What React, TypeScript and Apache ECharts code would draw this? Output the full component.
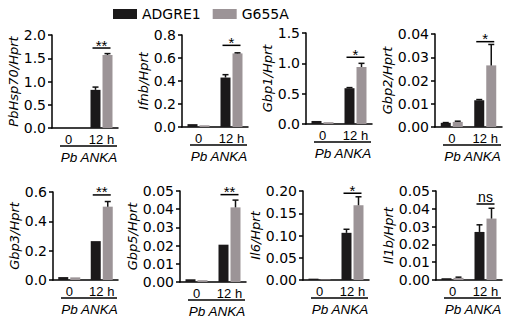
import React, { useEffect, useRef } from "react";
import * as echarts from "echarts";

const categories = ["0", "12 h"];
const panelTitles = ["PbHsp70/Hprt", "Ifnb/Hprt", "Gbp1/Hprt", "Gbp2/Hprt", "Gbp3/Hprt", "Gbp5/Hprt", "Il6/Hprt", "Il1b/Hprt"];
const yMaxes = [2.0, 0.8, 1.5, 0.04, 0.6, 0.05, 0.2, 0.05];
const yIntervals = [0.5, 0.2, 0.5, 0.01, 0.2, 0.01, 0.05, 0.01];
const yDecimals = [1, 1, 1, 2, 1, 2, 2, 2];

const adgre1Means = [
  [0, 0.82], [0.025, 0.43], [0.05, 0.59], [0.0018, 0.0115],
  [0.02, 0.265], [0.0015, 0.0205], [0.003, 0.106], [0.001, 0.027],
];
const adgre1Errors = [
  [0, 0.06], [0, 0.025], [0, 0.01], [0.0001, 0.0003],
  [0, 0], [0, 0], [0, 0.008], [0, 0.004],
];
const g655aMeans = [
  [0, 1.57], [0.015, 0.64], [0.03, 0.94], [0.0022, 0.0265],
  [0.018, 0.5], [0.001, 0.041], [0.001, 0.168], [0.0012, 0.0345],
];
const g655aErrors = [
  [0, 0.03], [0, 0.005], [0, 0.06], [0.0003, 0.009],
  [0, 0.035], [0, 0.004], [0, 0.019], [0.0004, 0.0058],
];
const sigLabels = ["**", "*", "*", "*", "**", "**", "*", "ns"];
const sigLevels = [1.72, 0.71, 1.1, 0.0367, 0.58, 0.048, 0.195, 0.0427];
const groupLabel = "Pb ANKA";

// layout (positions only)
const gridLayout = [
  { left: 52, top: 35, width: 66, height: 93, gap: 30 },
  { left: 182, top: 35, width: 66, height: 92, gap: 27 },
  { left: 306, top: 33, width: 66, height: 91, gap: 29 },
  { left: 435, top: 34, width: 67, height: 93, gap: 38 },
  { left: 53, top: 192, width: 65, height: 88, gap: 31 },
  { left: 180, top: 191, width: 66, height: 91, gap: 37 },
  { left: 303, top: 191, width: 66, height: 89, gap: 37 },
  { left: 436, top: 191, width: 66, height: 89, gap: 39 },
];

const BLACK = "#1b191a";
const GREY = "#9c9497";
const BAR_W = 10;
const OFFSET = 6;

export default function App() {
  const ref = useRef<HTMLDivElement>(null);
  useEffect(() => {
    if (!ref.current) return;
    const chart = echarts.init(ref.current, undefined, { renderer: "svg" });
    const grids: any[] = [];
    const xAxes: any[] = [];
    const yAxes: any[] = [];
    const series: any[] = [];
    const graphics: any[] = [];

    panelTitles.forEach((title, i) => {
      const g = gridLayout[i];
      grids.push({ left: g.left, top: g.top, width: g.width, height: g.height, containLabel: false });
      xAxes.push({
        type: "category",
        gridIndex: i,
        data: categories,
        axisLine: { lineStyle: { color: "#000", width: 1.5 } },
        axisTick: { alignWithLabel: true, length: 4, lineStyle: { color: "#000", width: 1.5 } },
        axisLabel: { color: "#000", fontFamily: "Liberation Sans", fontSize: 13, margin: 5, interval: 0 },
      });
      const dec = yDecimals[i];
      yAxes.push({
        type: "value",
        gridIndex: i,
        min: 0,
        max: yMaxes[i],
        interval: yIntervals[i],
        name: title,
        nameLocation: "middle",
        nameGap: g.gap,
        nameTextStyle: { color: "#000", fontFamily: "DejaVu Sans", fontStyle: "italic", fontSize: 13 },
        axisLine: { show: true, lineStyle: { color: "#000", width: 1.5 } },
        axisTick: { show: true, length: 4, lineStyle: { color: "#000", width: 1.5 } },
        splitLine: { show: false },
        axisLabel: {
          color: "#000",
          fontFamily: "DejaVu Sans",
          fontSize: 14,
          margin: 6,
          formatter: (v: number) => v.toFixed(dec),
        },
      });
      series.push({
        type: "bar",
        name: "ADGRE1",
        xAxisIndex: i,
        yAxisIndex: i,
        data: adgre1Means[i],
        barWidth: BAR_W,
        barGap: "20%",
        itemStyle: { color: BLACK },
        silent: true,
      });
      series.push({
        type: "bar",
        name: "G655A",
        xAxisIndex: i,
        yAxisIndex: i,
        data: g655aMeans[i],
        barWidth: BAR_W,
        barGap: "20%",
        itemStyle: { color: GREY },
        silent: true,
      });
      const errData: number[][] = [];
      adgre1Means[i].forEach((m, c) => errData.push([c, m, adgre1Errors[i][c], -1]));
      g655aMeans[i].forEach((m, c) => errData.push([c, m, g655aErrors[i][c], 1]));
      series.push({
        type: "custom",
        name: "err" + i,
        xAxisIndex: i,
        yAxisIndex: i,
        silent: true,
        z: 5,
        data: errData,
        encode: { x: 0, y: 1 },
        renderItem: (_p: any, api: any) => {
          const c = api.value(0);
          const m = api.value(1);
          const e = api.value(2);
          const side = api.value(3);
          if (!e) return { type: "group", children: [] };
          const base = api.coord([c, m]);
          const top = api.coord([c, m + e]);
          const x = base[0] + side * OFFSET;
          return {
            type: "group",
            children: [
              { type: "line", shape: { x1: x, y1: base[1], x2: x, y2: top[1] }, style: { stroke: "#111", lineWidth: 1.5 } },
              { type: "line", shape: { x1: x - 3, y1: top[1], x2: x + 3, y2: top[1] }, style: { stroke: "#111", lineWidth: 1.5 } },
            ],
          };
        },
      });
      series.push({
        type: "custom",
        name: "sig" + i,
        xAxisIndex: i,
        yAxisIndex: i,
        silent: true,
        z: 6,
        data: [[1, sigLevels[i]]],
        encode: { x: 0, y: 1 },
        renderItem: (_p: any, api: any) => {
          const p = api.coord([api.value(0), api.value(1)]);
          const label = sigLabels[i];
          const isNs = label === "ns";
          return {
            type: "group",
            children: [
              { type: "line", shape: { x1: p[0] - 9, y1: p[1], x2: p[0] + 9, y2: p[1] }, style: { stroke: "#000", lineWidth: 1.5 } },
              {
                type: "text",
                x: p[0],
                y: p[1] - (isNs ? 7 : 3),
                style: {
                  text: label,
                  fill: "#000",
                  fontFamily: "Liberation Sans",
                  fontSize: isNs ? 14 : 15,
                  align: "center",
                  verticalAlign: "middle",
                },
              },
            ],
          };
        },
      });
      const bottom = g.top + g.height;
      graphics.push({
        type: "line",
        shape: { x1: g.left + 8, y1: bottom + 18, x2: g.left + g.width - 1, y2: bottom + 18 },
        style: { stroke: "#000", lineWidth: 1.5 },
        silent: true,
      });
      graphics.push({
        type: "text",
        x: g.left + 4 + g.width / 2,
        y: bottom + 29,
        style: {
          text: groupLabel,
          fill: "#000",
          fontFamily: "Liberation Sans",
          fontStyle: "italic",
          fontSize: 13.5,
          align: "center",
          verticalAlign: "middle",
        },
        silent: true,
      });
    });

    chart.setOption({
      animation: false,
      backgroundColor: "#fff",
      legend: {
        data: ["ADGRE1", "G655A"],
        left: 108,
        top: 2,
        icon: "rect",
        itemWidth: 24,
        itemHeight: 10,
        itemGap: 12,
        textStyle: { color: "#000", fontFamily: "DejaVu Sans", fontSize: 14 },
        selectedMode: false,
      },
      grid: grids,
      xAxis: xAxes,
      yAxis: yAxes,
      series,
      graphic: graphics,
    });
    return () => chart.dispose();
  }, []);
  return <div ref={ref} style={{ position: "fixed", left: 0, top: 0, width: 509, height: 330 }} />;
}
